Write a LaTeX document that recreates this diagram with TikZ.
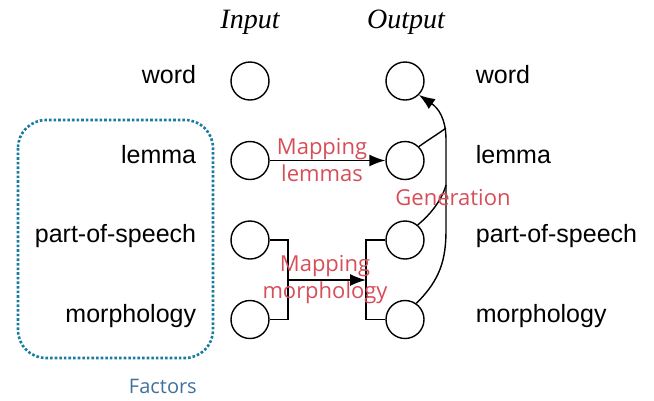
\documentclass[tikz,border=0pt]{standalone}
\usepackage{fontspec}
\setmainfont{Liberation Serif}
\setsansfont{Liberation Sans}
\newfontfamily\mapfont{Open Sans}
\usepackage{tikz}
\usetikzlibrary{arrows.meta,calc,positioning}

\definecolor{mapred}{RGB}{214,78,88}
\definecolor{factblue}{RGB}{64,112,156}
\definecolor{dotblue}{RGB}{24,124,160}

\tikzset{
  var/.style={circle,draw,line width=1.4pt,minimum size=38pt,inner sep=0pt},
  factor/.style={font=\sffamily\fontsize{25}{30}\selectfont,inner sep=0pt,
    text height=0.72em,text depth=0.2em},
  side/.style={font=\rmfamily\itshape\fontsize{28}{32}\selectfont,inner sep=0pt},
  maplbl/.style={font=\mapfont\fontsize{22}{27}\selectfont,text=mapred,
    align=center,inner sep=0pt},
  link/.style={line width=1.4pt},
  maparrow/.style={link,-{Latex[length=16pt,width=12pt]}},
}

\begin{document}
\begin{tikzpicture}[x=1pt,y=-1pt,node distance=79.5pt]
      \useasboundingbox (0,0) rectangle (654,400);

      \node[var] (iwrd) at (250,81) {} ;
      \node[var,below of=iwrd] (ilem) {} ;
      \node[var,below of=ilem] (ipos) {} ;
      \node[var,below of=ipos] (imor) {} ;

      \node[var] (owrd) at (405,81) {} ;
      \node[var,below of=owrd] (olem) {} ;
      \node[var,below of=olem] (opos) {} ;
      \node[var,below of=opos] (omor) {} ;

      \node[side] (input) at (250,22) {Input} ;
      \node[side] (output) at (406,22) {Output} ;

      % factor names
      \node[factor,left=34pt of iwrd] (lwrd) {word} ;
      \node[factor,left=34pt of ilem] (llem) {lemma} ;
      \node[factor,left=34pt of ipos] (lpos) {part-of-speech} ;
      \node[factor,left=34pt of imor] (lmor) {morphology} ;

      \node[factor,right=51pt of owrd] (rwrd) {word} ;
      \node[factor,right=51pt of olem] (rlem) {lemma} ;
      \node[factor,right=51pt of opos] (rpos) {part-of-speech} ;
      \node[factor,right=51pt of omor] (rmor) {morphology} ;

      \draw[dotblue,line width=2.6pt,dotted,rounded corners=28pt]
      (18,120) rectangle (213,358) ;
      \node[font=\mapfont\fontsize{20}{24}\selectfont,text=factblue,anchor=east,
        inner sep=0pt] (factors) at (197,386) {Factors} ;

      % lemmas
      \path[maparrow] (ilem) edge (olem) ;
      \node[maplbl] (maplem) at (322,160) {Mapping\\lemmas} ;

      % morphology
      \coordinate (inbr) at (288,280) ;
      \coordinate (outbr) at (366,280) ;
      \draw[link] (ipos.east) -| (inbr) |- (imor.east) ;
      \draw[link] (opos.west) -| (outbr) |- (omor.west) ;
      \path[maparrow] (inbr) edge (outbr) ;
      \node[maplbl] (mapmor) at (325,280) {Mapping\\morphology} ;

      % generation
      \coordinate (joinlem) at (446,128) ;
      \coordinate (joinpos) at (446,185) ;
      \draw[link] (olem.45) .. controls (428,140) and (438,134) .. (joinlem) ;
      \draw[link] (opos.50) .. controls (430,215) and (442,200) .. (joinpos) ;
      \draw[maparrow] (omor.55) .. controls (440,280) and (446,260) .. (446,230)
        -- (446,140) .. controls (446,118) and (438,108) .. (owrd.-45) ;
      \node[maplbl] (gen) at (453,198) {Generation} ;

    \end{tikzpicture}
\end{document}
